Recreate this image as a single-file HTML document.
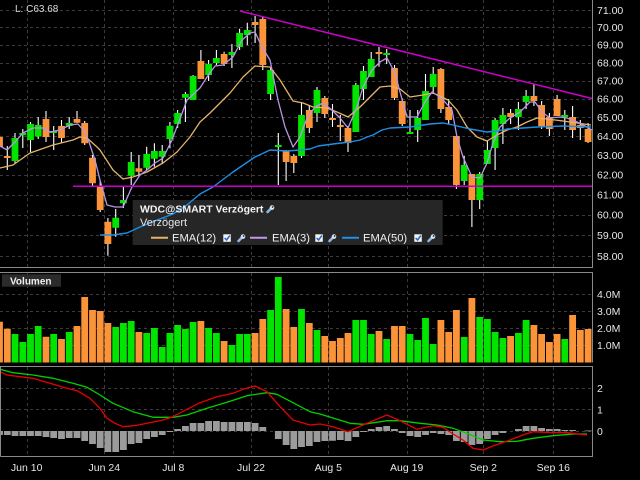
<!DOCTYPE html>
<html><head><meta charset="utf-8">
<style>
html,body{margin:0;padding:0;background:#000;width:640px;height:480px;overflow:hidden}
svg{display:block}
text{font-family:"Liberation Sans",sans-serif}
</style></head><body>
<svg width="640" height="480" viewBox="0 0 640 480" xmlns="http://www.w3.org/2000/svg">
<rect width="640" height="480" fill="#000"/>
<!-- grid -->
<path fill="none" stroke="#3c3c3c" stroke-width="1" stroke-dasharray="3,3" d="M0 10.5H592M0 27.5H592M0 45.5H592M0 63.5H592M0 81.5H592M0 99.5H592M0 117.5H592M0 136.5H592M0 155.5H592M0 175.5H592M0 195.5H592M0 215.5H592M0 235.5H592M0 256.5H592M0 294.5H592M0 311.5H592M0 328.5H592M0 345.5H592M0 388.5H592M0 409.5H592M0 431.5H592M27.5 0V267M104.5 0V267M173.5 0V267M251.5 0V267M328.5 0V267M407.5 0V267M483.5 0V267M553.5 0V267M27.5 273V362M104.5 273V362M173.5 273V362M251.5 273V362M328.5 273V362M407.5 273V362M483.5 273V362M553.5 273V362M27.5 367V456M104.5 367V456M173.5 367V456M251.5 367V456M328.5 367V456M407.5 367V456M483.5 367V456M553.5 367V456"/>
<!-- legend box -->
<rect x="132.7" y="200" width="310" height="45" fill="#262626"/>
<!-- volume -->
<path fill="#fb9439" d="M-3.9 321.7h6.8V362.5h-6.8ZM3.9 328.7h6.8V362.5h-6.8ZM42.6 336.7h6.8V362.5h-6.8ZM58.1 339h6.8V362.5h-6.8ZM73.6 326h6.8V362.5h-6.8ZM81.3 297h6.8V362.5h-6.8ZM89.1 310h6.8V362.5h-6.8ZM96.8 311h6.8V362.5h-6.8ZM104.5 323h6.8V362.5h-6.8ZM135.5 332h6.8V362.5h-6.8ZM197.5 321h6.8V362.5h-6.8ZM220.7 341h6.8V362.5h-6.8ZM251.7 333h6.8V362.5h-6.8ZM259.4 319h6.8V362.5h-6.8ZM282.7 309h6.8V362.5h-6.8ZM290.4 327h6.8V362.5h-6.8ZM305.9 323h6.8V362.5h-6.8ZM321.4 336h6.8V362.5h-6.8ZM329.1 341h6.8V362.5h-6.8ZM336.9 338h6.8V362.5h-6.8ZM344.6 333h6.8V362.5h-6.8ZM375.6 331h6.8V362.5h-6.8ZM391.1 326h6.8V362.5h-6.8ZM398.8 326h6.8V362.5h-6.8ZM437.5 320h6.8V362.5h-6.8ZM445.3 332h6.8V362.5h-6.8ZM453 310h6.8V362.5h-6.8ZM468.5 298h6.8V362.5h-6.8ZM507.2 336h6.8V362.5h-6.8ZM530.5 325h6.8V362.5h-6.8ZM538.2 334h6.8V362.5h-6.8ZM546 342h6.8V362.5h-6.8ZM553.7 334h6.8V362.5h-6.8ZM569.2 315h6.8V362.5h-6.8ZM576.9 330h6.8V362.5h-6.8ZM584.7 329h6.8V362.5h-6.8Z"/>
<path fill="#00e400" d="M11.6 334h6.8V362.5h-6.8ZM19.4 342h6.8V362.5h-6.8ZM27.1 334h6.8V362.5h-6.8ZM34.8 326h6.8V362.5h-6.8ZM50.3 334h6.8V362.5h-6.8ZM65.8 332h6.8V362.5h-6.8ZM112.3 327h6.8V362.5h-6.8ZM120 323h6.8V362.5h-6.8ZM127.8 321h6.8V362.5h-6.8ZM143.3 333h6.8V362.5h-6.8ZM151 328h6.8V362.5h-6.8ZM158.8 347h6.8V362.5h-6.8ZM166.5 333h6.8V362.5h-6.8ZM174.2 325h6.8V362.5h-6.8ZM182 329h6.8V362.5h-6.8ZM189.7 322h6.8V362.5h-6.8ZM205.2 328h6.8V362.5h-6.8ZM213 333h6.8V362.5h-6.8ZM228.5 345h6.8V362.5h-6.8ZM236.2 334h6.8V362.5h-6.8ZM243.9 334h6.8V362.5h-6.8ZM267.2 310h6.8V362.5h-6.8ZM274.9 277h6.8V362.5h-6.8ZM298.1 309h6.8V362.5h-6.8ZM313.6 330h6.8V362.5h-6.8ZM352.4 320h6.8V362.5h-6.8ZM360.1 320h6.8V362.5h-6.8ZM367.8 334h6.8V362.5h-6.8ZM383.3 339h6.8V362.5h-6.8ZM406.6 334h6.8V362.5h-6.8ZM414.3 340h6.8V362.5h-6.8ZM422.1 318h6.8V362.5h-6.8ZM429.8 344h6.8V362.5h-6.8ZM460.8 337h6.8V362.5h-6.8ZM476.3 317h6.8V362.5h-6.8ZM484 319h6.8V362.5h-6.8ZM491.7 332h6.8V362.5h-6.8ZM499.5 338h6.8V362.5h-6.8ZM515 333h6.8V362.5h-6.8ZM522.7 320h6.8V362.5h-6.8ZM561.4 339h6.8V362.5h-6.8Z"/>
<!-- macd histogram -->
<path fill="#9b9b9b" d="M-3.9 431h6.8V435h-6.8ZM3.9 431h6.8V435h-6.8ZM11.6 431h6.8V436h-6.8ZM19.4 431h6.8V436h-6.8ZM27.1 431h6.8V436h-6.8ZM34.8 431h6.8V436h-6.8ZM42.6 431h6.8V437h-6.8ZM50.3 431h6.8V438h-6.8ZM58.1 431h6.8V439h-6.8ZM65.8 431h6.8V438h-6.8ZM73.6 431h6.8V438h-6.8ZM81.3 431h6.8V441h-6.8ZM89.1 431h6.8V444h-6.8ZM96.8 431h6.8V448h-6.8ZM104.5 431h6.8V452h-6.8ZM112.3 431h6.8V452h-6.8ZM120 431h6.8V450h-6.8ZM127.8 431h6.8V444h-6.8ZM135.5 431h6.8V443h-6.8ZM143.3 431h6.8V439h-6.8ZM151 431h6.8V437h-6.8ZM158.8 431h6.8V435h-6.8ZM166.5 431h6.8V432h-6.8ZM174.2 431h6.8V429h-6.8ZM182 431h6.8V426h-6.8ZM189.7 431h6.8V423h-6.8ZM197.5 431h6.8V423h-6.8ZM205.2 431h6.8V421h-6.8ZM213 431h6.8V421h-6.8ZM220.7 431h6.8V422h-6.8ZM228.5 431h6.8V422h-6.8ZM236.2 431h6.8V422h-6.8ZM243.9 431h6.8V422h-6.8ZM251.7 431h6.8V423h-6.8ZM259.4 431h6.8V427h-6.8ZM274.9 431h6.8V439h-6.8ZM282.7 431h6.8V445h-6.8ZM290.4 431h6.8V449h-6.8ZM298.1 431h6.8V447h-6.8ZM305.9 431h6.8V446h-6.8ZM313.6 431h6.8V442h-6.8ZM321.4 431h6.8V441h-6.8ZM329.1 431h6.8V440.7h-6.8ZM336.9 431h6.8V440h-6.8ZM344.6 431h6.8V441h-6.8ZM352.4 431h6.8V437h-6.8ZM360.1 431h6.8V432h-6.8ZM367.8 431h6.8V429h-6.8ZM375.6 431h6.8V427h-6.8ZM383.3 431h6.8V426h-6.8ZM391.1 431h6.8V429h-6.8ZM398.8 431h6.8V433h-6.8ZM406.6 431h6.8V436h-6.8ZM414.3 431h6.8V437h-6.8ZM422.1 431h6.8V435h-6.8ZM429.8 431h6.8V433h-6.8ZM437.5 431h6.8V434h-6.8ZM445.3 431h6.8V435h-6.8ZM453 431h6.8V441h-6.8ZM460.8 431h6.8V442h-6.8ZM468.5 431h6.8V445h-6.8ZM476.3 431h6.8V444h-6.8ZM484 431h6.8V439h-6.8ZM491.7 431h6.8V435h-6.8ZM499.5 431h6.8V433h-6.8ZM515 431h6.8V429h-6.8ZM522.7 431h6.8V426h-6.8ZM530.5 431h6.8V426h-6.8ZM538.2 431h6.8V428h-6.8ZM546 431h6.8V429h-6.8ZM553.7 431h6.8V429h-6.8ZM561.4 431h6.8V430h-6.8ZM569.2 431h6.8V430h-6.8ZM584.7 430.5h6.8V431.2h-6.8Z"/>
<!-- wicks -->
<path fill="none" stroke="#ffffff" stroke-width="1.1" d="M-0.5 133V150M7.3 146V170M15 133V163M22.8 129V148M30.5 122V152M38.2 117V139M46 111V142M53.7 126V150M61.5 120V143M69.2 117V129M77 111V123M84.7 121V145M92.5 155V186M100.2 181V212M107.9 218V255.7M115.7 209V236.7M123.4 186.7V208M131.2 152V185M138.9 155V176.7M146.7 146.7V170M154.4 143.3V166.7M162.2 145V163.3M169.9 122V148.3M177.6 110V128M185.4 92V122M193.1 75V100M200.9 50V79M208.6 60V81M216.4 50V65M224.1 51.7V66M231.9 44V68M239.6 28.7V50M247.3 22.7V45M255.1 16V43M262.8 16.7V70M270.6 66.7V100M278.3 133V185M286.1 150V181M293.8 154V173M301.5 102V158M309.3 106V133M317 87V122M324.8 96V118M332.5 104V127M340.3 115V141M348 126V152M355.8 83V132M363.5 66V100M371.2 52V77M379 47V66.7M386.7 49V64M394.5 65V100M402.2 98V126M410 110V134M417.7 110V142M425.5 74V120M433.2 67V94M440.9 68V113M448.7 99V124M456.4 136V189M464.2 156V185M471.9 174V227M479.7 172V209M487.4 141V164M495.1 118V170M502.9 108V144M510.6 109V124M518.4 102V130M526.1 90V109M533.9 84V106M541.6 101V129M549.4 113V136M557.1 95V116M564.8 110V130M572.6 106V138M580.3 120V140M588.1 123V143"/>
<!-- orange bodies -->
<path fill="#fb9439" d="M-3.9 137h6.8V147h-6.8ZM3.9 156h6.8V158h-6.8ZM42.6 119h6.8V137h-6.8ZM58.1 126h6.8V138h-6.8ZM73.6 119h6.8V122.7h-6.8ZM81.3 123h6.8V143.3h-6.8ZM89.1 157.7h6.8V183.3h-6.8ZM96.8 186.7h6.8V210h-6.8ZM104.5 221.7h6.8V244h-6.8ZM135.5 168.3h6.8V171.7h-6.8ZM197.5 61h6.8V79h-6.8ZM220.7 54h6.8V64h-6.8ZM251.7 22h6.8V25h-6.8ZM259.4 19h6.8V65h-6.8ZM282.7 151h6.8V162h-6.8ZM290.4 156h6.8V163h-6.8ZM305.9 110h6.8V128h-6.8ZM321.4 98h6.8V114h-6.8ZM329.1 118h6.8V120h-6.8ZM336.9 125h6.8V127h-6.8ZM344.6 128h6.8V143h-6.8ZM375.6 52h6.8V54h-6.8ZM391.1 68h6.8V98h-6.8ZM398.8 101h6.8V124h-6.8ZM437.5 69h6.8V109h-6.8ZM445.3 107h6.8V120h-6.8ZM453 136h6.8V185h-6.8ZM468.5 174h6.8V200h-6.8ZM507.2 113h6.8V117h-6.8ZM530.5 96h6.8V101h-6.8ZM538.2 105h6.8V126h-6.8ZM546 117h6.8V129h-6.8ZM553.7 99h6.8V116h-6.8ZM569.2 117h6.8V130h-6.8ZM576.9 125h6.8V128h-6.8ZM584.7 129h6.8V142h-6.8Z"/>
<!-- green bodies -->
<path fill="#00e400" d="M11.6 138h6.8V161h-6.8ZM19.4 133h6.8V135.2h-6.8ZM27.1 124h6.8V140h-6.8ZM34.8 125h6.8V136.5h-6.8ZM50.3 131h6.8V133h-6.8ZM65.8 123h6.8V126h-6.8ZM112.3 217.7h6.8V227.7h-6.8ZM120 200h6.8V203.3h-6.8ZM127.8 162h6.8V175.7h-6.8ZM143.3 154h6.8V167.7h-6.8ZM151 151h6.8V158.7h-6.8ZM158.8 151h6.8V156.7h-6.8ZM166.5 125.7h6.8V139h-6.8ZM174.2 113h6.8V124h-6.8ZM182 94h6.8V97.7h-6.8ZM189.7 76h6.8V100h-6.8ZM205.2 64h6.8V75h-6.8ZM213 58h6.8V63h-6.8ZM228.5 52h6.8V55h-6.8ZM236.2 33h6.8V47h-6.8ZM243.9 30h6.8V35h-6.8ZM267.2 70h6.8V94h-6.8ZM274.9 145h6.8V147h-6.8ZM298.1 115h6.8V156h-6.8ZM313.6 90h6.8V113h-6.8ZM352.4 85h6.8V132h-6.8ZM360.1 71h6.8V89h-6.8ZM367.8 59h6.8V77h-6.8ZM383.3 53h6.8V55h-6.8ZM406.6 132h6.8V134h-6.8ZM414.3 118h6.8V130h-6.8ZM422.1 91h6.8V120h-6.8ZM429.8 74h6.8V87h-6.8ZM460.8 165h6.8V181h-6.8ZM476.3 174h6.8V200h-6.8ZM484 150h6.8V164h-6.8ZM491.7 120h6.8V148h-6.8ZM499.5 115h6.8V124h-6.8ZM515 109h6.8V117h-6.8ZM522.7 96h6.8V102h-6.8ZM561.4 115h6.8V117h-6.8Z"/>
<!-- EMA lines -->
<polyline fill="none" stroke="#e6b36a" stroke-width="1.3" stroke-linejoin="round" points="0,168 13,165 30,153 53,145 73,140 80,137 87,138 97,147 100,150 113,170 123,179 133,177 147,172 163,163 177,152 190,137 200,122 210,113 220,103 230,93 243,77 255,66 270,67 280,80 293,101 303,103 313,107 327,108 337,112 348,117 360,107 370,97 380,87 390,86 400,89 410,97 423,95 433,93 448,100 457,110 467,127 477,137 487,141 497,135 507,130 517,127 527,122 537,118 547,119 563,121 577,123 591,125"/>
<polyline fill="none" stroke="#b896e6" stroke-width="1.3" stroke-linejoin="round" points="0,146 7,150 15,142 23,133 33,128 43,128 50,132 60,130 70,125 78,124 85,132 89,142 95,160 100,180 107,205 115,207 123,207 132,187 140,175 147,170 155,163 163,158 172,140 178,124 187,100 200,88 207,77 215,66 223,65 233,57 242,40 250,33 255,32 262,47 270,60 278,100 285,127 293,147 300,137 307,118 315,107 323,103 332,110 340,118 348,128 357,107 363,87 372,70 380,62 387,58 395,73 400,92 407,117 417,117 425,102 432,92 437,95 445,102 452,110 457,137 463,157 472,177 480,178 487,163 493,143 500,127 510,118 520,112 530,102 535,102 542,112 550,118 560,117 567,118 577,122 587,127 592,130"/>
<polyline fill="none" stroke="#1e8fe6" stroke-width="1.4" stroke-linejoin="round" points="100,235 113,235 127,233 140,227 157,220 173,214 187,205 200,194 213,187 233,172 255,157 270,150 287,151 300,150 310,149 318,146 333,144 350,142 360,140 367,137 373,135 382,130 390,128 410,127 430,124 443,123 453,125 470,129 487,132 497,131 507,129 523,128 537,127 563,126 591,127"/>
<!-- trend lines -->
<line x1="73" y1="186.3" x2="592" y2="186.3" stroke="#cc00cc" stroke-width="1.5"/>
<line x1="240" y1="11" x2="592" y2="98.5" stroke="#cc00cc" stroke-width="1.5"/>
<!-- MACD lines -->
<polyline fill="none" stroke="#00d000" stroke-width="1.3" stroke-linejoin="round" points="0,369.3 13,372.7 33,375 53,378.3 73,383.3 87,387.3 100,395 113,403.3 133,411.7 153,417.3 173,417.3 187,415 207,408.3 227,402.3 247,395.7 267,392.7 277,394.3 293,402.7 310,411.7 320,414 337,419.3 350,423.3 363,424.3 387,420.7 400,420.7 420,423.3 437,425 453,428.3 467,433.3 483,440 500,441.7 517,441.3 533,438.3 553,435.7 573,434 587,434"/>
<polyline fill="none" stroke="#e80000" stroke-width="1.3" stroke-linejoin="round" points="0,371.7 7,375 20,376.7 33,378.3 50,383.3 67,388.3 77,390.7 90,398.3 100,408.3 107,418.3 115,423.3 123,426.7 137,425.3 147,423.3 163,420 173,416.7 187,409.3 200,402.7 217,396.7 233,393.3 243,389.3 255,386 267,391.7 280,406.7 293,420 310,425 320,424 333,426.7 348,431.7 363,425 387,415 400,420.7 417,429.3 433,425.7 443,427.3 453,434 463,440 473,448.3 483,450 493,446 510,440 523,435 533,431.7 553,432.7 567,432.7 587,435"/>
<!-- panel borders -->
<g stroke="#8a8a8a" stroke-width="1" fill="none">
<path d="M0 267.5 H592.5 V0"/>
<path d="M0 272.5 H592.5 V362.5"/>
<path d="M0.5 456.5 V366.5 H592.5 V456.5 H0.5"/>
</g>
<!-- top-left label -->
<text x="15" y="12" font-size="10" fill="#dcdcdc">L: C63.68</text>
<!-- price axis -->
<g font-size="10.5" fill="#e6e6e6">
<text x="597" y="13.8">71.00</text>
<text x="597" y="31">70.00</text>
<text x="597" y="48.5">69.00</text>
<text x="597" y="66.3">68.00</text>
<text x="597" y="84.3">67.00</text>
<text x="597" y="102.6">66.00</text>
<text x="597" y="121.2">65.00</text>
<text x="597" y="140.1">64.00</text>
<text x="597" y="159.2">63.00</text>
<text x="597" y="178.7">62.00</text>
<text x="597" y="198.4">61.00</text>
<text x="597" y="218.6">60.00</text>
<text x="597" y="239">59.00</text>
<text x="597" y="259.8">58.00</text>
<text x="597" y="297.8">4.0M</text>
<text x="597" y="314.8">3.0M</text>
<text x="597" y="331.8">2.0M</text>
<text x="597" y="348.8">1.0M</text>
<text x="597" y="391.8">2</text>
<text x="597" y="413.3">1</text>
<text x="597" y="434.8">0</text>
</g>
<!-- x axis -->
<g font-size="10.5" fill="#e6e6e6" text-anchor="middle">
<text x="26.7" y="471">Jun 10</text>
<text x="104.3" y="471">Jun 24</text>
<text x="173.3" y="471">Jul 8</text>
<text x="251" y="471">Jul 22</text>
<text x="328.3" y="471">Aug 5</text>
<text x="406.7" y="471">Aug 19</text>
<text x="483.3" y="471">Sep 2</text>
<text x="553.3" y="471">Sep 16</text>
</g>
<!-- Volumen label -->
<rect x="2" y="274.3" width="59" height="12.4" fill="#2b2b2b"/>
<text x="10" y="284.3" font-size="10" font-weight="bold" fill="#f0f0f0">Volumen</text>
<!-- legend -->
<text x="140" y="212.5" font-size="10.5" font-weight="bold" fill="#f4f4f4">WDC@SMART Verzögert</text>
<text x="140" y="226" font-size="11" fill="#e8e8e8">Verzögert</text>
<line x1="151" y1="237.7" x2="168" y2="237.7" stroke="#e6b36a" stroke-width="2"/>
<text x="172" y="241.5" font-size="11.2" fill="#f0f0f0">EMA(12)</text>
<line x1="250" y1="237.7" x2="267" y2="237.7" stroke="#c09ae8" stroke-width="2"/>
<text x="272" y="241.5" font-size="11.2" fill="#f0f0f0">EMA(3)</text>
<line x1="342" y1="237.7" x2="359" y2="237.7" stroke="#1e90ea" stroke-width="2"/>
<text x="363" y="241.5" font-size="11.2" fill="#f0f0f0">EMA(50)</text>
<rect x="223.3" y="234.3" width="7.5" height="7.5" fill="#f2f2f2"/>
<path d="M224.6 238 L226.6 240 L229.8 235.6" stroke="#2a62c8" stroke-width="1.5" fill="none"/>
<rect x="315.3" y="234.3" width="7.5" height="7.5" fill="#f2f2f2"/>
<path d="M316.6 238 L318.6 240 L321.8 235.6" stroke="#2a62c8" stroke-width="1.5" fill="none"/>
<rect x="414.3" y="234.3" width="7.5" height="7.5" fill="#f2f2f2"/>
<path d="M415.6 238 L417.6 240 L420.8 235.6" stroke="#2a62c8" stroke-width="1.5" fill="none"/>
<!-- wrench icons -->
<g transform="translate(266,205)"><path d="M1.5 7 L5 3.5" stroke="#8fb8e6" stroke-width="2.6" stroke-linecap="round"/><circle cx="6" cy="2.6" r="2.3" fill="#d4e6f8"/><circle cx="6.6" cy="2" r="0.9" fill="#262626"/></g>
<g transform="translate(237,234)"><path d="M1.5 7 L5 3.5" stroke="#8fb8e6" stroke-width="2.6" stroke-linecap="round"/><circle cx="6" cy="2.6" r="2.3" fill="#d4e6f8"/><circle cx="6.6" cy="2" r="0.9" fill="#262626"/></g>
<g transform="translate(328,234)"><path d="M1.5 7 L5 3.5" stroke="#8fb8e6" stroke-width="2.6" stroke-linecap="round"/><circle cx="6" cy="2.6" r="2.3" fill="#d4e6f8"/><circle cx="6.6" cy="2" r="0.9" fill="#262626"/></g>
<g transform="translate(427,234)"><path d="M1.5 7 L5 3.5" stroke="#8fb8e6" stroke-width="2.6" stroke-linecap="round"/><circle cx="6" cy="2.6" r="2.3" fill="#d4e6f8"/><circle cx="6.6" cy="2" r="0.9" fill="#262626"/></g>
</svg>
</body></html>
